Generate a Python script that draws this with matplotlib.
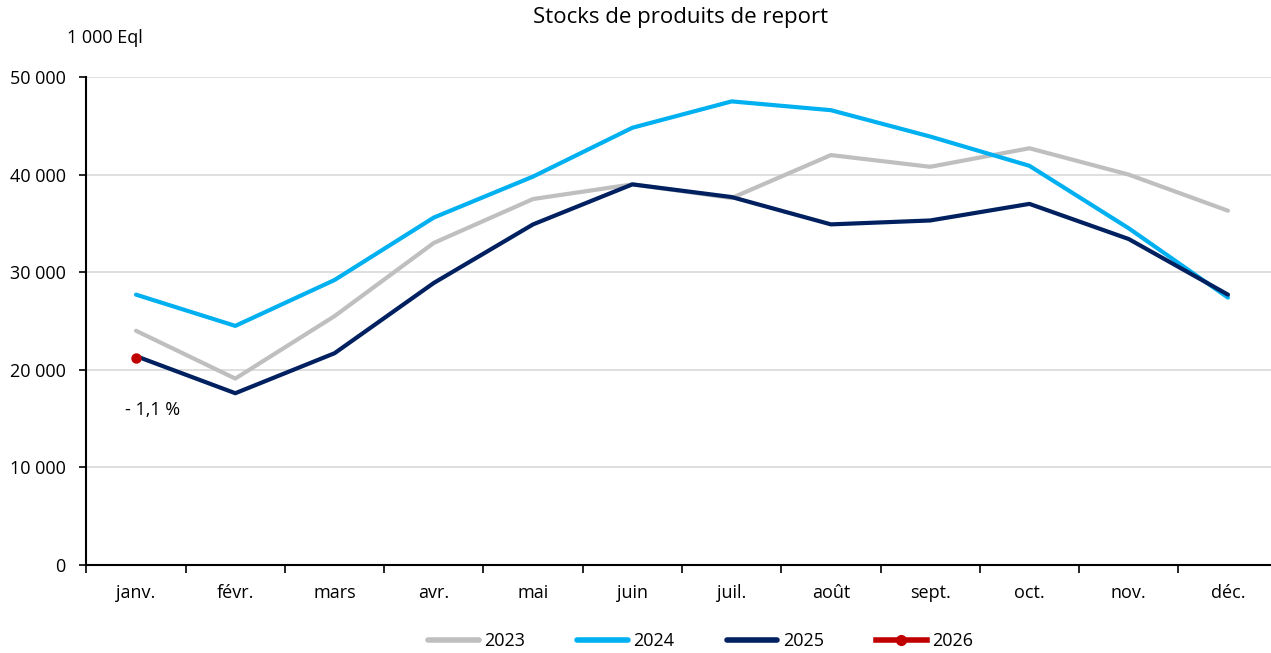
import matplotlib.pyplot as plt
from matplotlib.lines import Line2D
import numpy as np

plt.rcParams['font.family'] = ['Open Sans', 'DejaVu Sans']

months = ['janv.', 'févr.', 'mars', 'avr.', 'mai', 'juin', 'juil.', 'août', 'sept.', 'oct.', 'nov.', 'déc.']
s2023 = [24000, 19100, 25500, 33000, 37500, 39000, 37600, 42000, 40800, 42700, 40000, 36300]
s2024 = [27700, 24500, 29200, 35600, 39800, 44800, 47500, 46600, 43900, 40900, 34500, 27400]
s2025 = [21400, 17600, 21700, 28900, 34900, 39000, 37700, 34900, 35300, 37000, 33400, 27700]
s2026 = [21200]
yticks = [0, 10000, 20000, 30000, 40000, 50000]
ytick_labels = ['0', '10 000', '20 000', '30 000', '40 000', '50 000']

c2023, c2024, c2025, c2026 = '#bfbfbf', '#00b0f0', '#002060', '#c00000'

fig = plt.figure(figsize=(12.71, 6.53), dpi=100)
ax = fig.add_axes([86.4 / 1271, 1 - 565 / 653, 1191.2 / 1271, 488 / 653])

x = np.arange(len(months))
ax.plot(x, s2023, color=c2023, lw=3, solid_capstyle='round', zorder=3)
ax.plot(x, s2024, color=c2024, lw=3, solid_capstyle='round', zorder=4)
ax.plot(x, s2025, color=c2025, lw=3, solid_capstyle='round', zorder=5)
ax.plot(x[:len(s2026)], s2026, color=c2026, lw=3, marker='o', ms=6.5, zorder=6)
ax.text(x[0] + 0.17, s2026[0] - 5300, '- 1,1 %', fontsize=13, ha='center', va='center')

ax.set_xlim(-0.5, 11.5)
ax.set_ylim(0, 50000)
ax.set_yticks(yticks)
ax.set_yticklabels(ytick_labels, fontsize=13)
ax.yaxis.grid(True, color='#d9d9d9', lw=1.2)
ax.set_axisbelow(True)
ax.set_xticks(np.arange(-0.5, 12, 1))
ax.set_xticklabels([])
ax.set_xticks(x, minor=True)
ax.set_xticklabels(months, minor=True, fontsize=13)
ax.tick_params(axis='x', which='major', length=6, width=1.2, direction='out')
ax.tick_params(axis='x', which='minor', length=0, pad=14)
ax.tick_params(axis='y', length=5, width=1.2, direction='out', pad=10)
for side in ['top', 'right']:
    ax.spines[side].set_visible(False)
for side in ['left', 'bottom']:
    ax.spines[side].set_linewidth(1.5)

fig.text(681 / 1271, 1 - 17 / 653, 'Stocks de produits de report', fontsize=16, ha='center', va='center')
fig.text(67 / 1271, 1 - 38 / 653, '1 000 Eql', fontsize=13, ha='left', va='center')

handles = [
    Line2D([], [], color=c2023, lw=4, solid_capstyle='round'),
    Line2D([], [], color=c2024, lw=4, solid_capstyle='round'),
    Line2D([], [], color=c2025, lw=4, solid_capstyle='round'),
    Line2D([], [], color=c2026, lw=4, marker='o', ms=7),
]
fig.legend(handles, ['2023', '2024', '2025', '2026'], loc='center left', bbox_to_anchor=(419 / 1271, 1 - 641 / 653),
           ncol=4, frameon=False, fontsize=13, borderpad=0, handlelength=2.8, handletextpad=0.3,
           columnspacing=2.9)

fig.savefig('out.png', dpi=100)
